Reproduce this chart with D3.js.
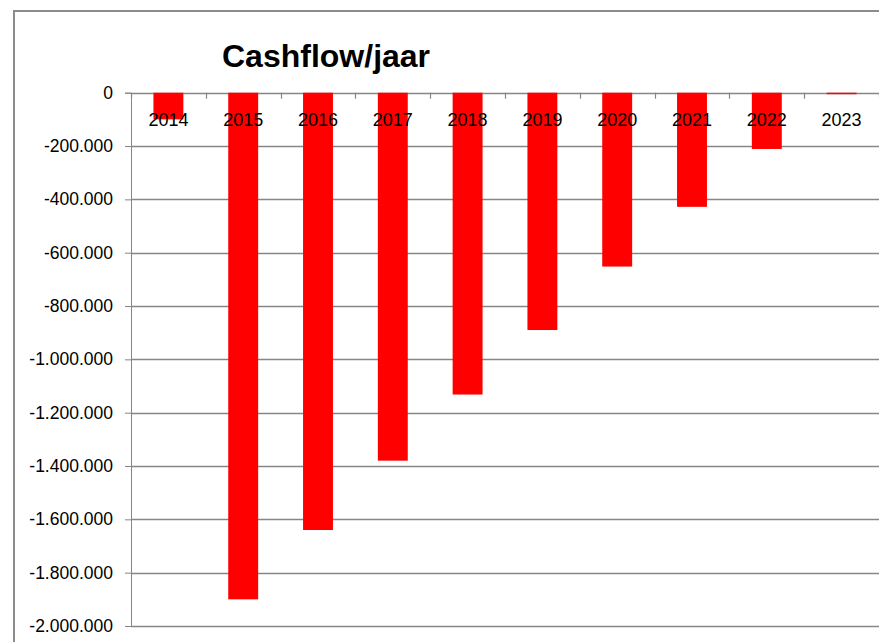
<!DOCTYPE html>
<html>
<head>
<meta charset="utf-8">
<script src="https://cdn.jsdelivr.net/npm/d3@7"></script>
<style>
  body { margin: 0; background: #fff; }
  svg { display: block; }
</style>
</head>
<body>
<svg id="chart" width="879" height="642"></svg>
<script>
// Chart data
const years = ["2014", "2015", "2016", "2017", "2018", "2019", "2020", "2021", "2022", "2023"];
const cashflow = [-100000, -1900000, -1640000, -1380000, -1132000, -890000, -652000, -428000, -211000, -4000];
const yTicks = [0, -200000, -400000, -600000, -800000, -1000000, -1200000, -1400000, -1600000, -1800000, -2000000];
const chartTitle = "Cashflow/jaar";

const width = 879;
const height = 642;
const plot = { left: 131, right: 879, top: 92.7, bottom: 626 };

const svg = d3.select("#chart");

// Dutch number format: 1.000.000
const nl = d3.formatLocale({ decimal: ",", thousands: ".", grouping: [3], currency: ["€", ""], minus: "-" });
const fmt = nl.format(",");

const x = d3.scaleBand()
  .domain(years)
  .range([plot.left, plot.right])
  .paddingInner(0.6)
  .paddingOuter(0.3);

const y = d3.scaleLinear()
  .domain([-2000000, 0])
  .range([plot.bottom, plot.top]);

// chart area border (runs off the right / bottom of the picture)
svg.append("rect")
  .attr("x", 14)
  .attr("y", 11)
  .attr("width", width + 20)
  .attr("height", height + 20)
  .attr("fill", "#fff")
  .attr("stroke", "#8c8c8c")
  .attr("stroke-width", 2);

// gridlines + y axis
const yAxis = d3.axisLeft(y)
  .tickValues(yTicks)
  .tickFormat(fmt)
  .tickSize(6)
  .tickPadding(12);

const gy = svg.append("g")
  .attr("transform", `translate(${plot.left},0)`)
  .call(yAxis);
gy.select(".domain").attr("stroke", "#868686");
gy.selectAll(".tick line").attr("stroke", "#868686");
gy.selectAll(".tick text")
  .attr("fill", "#000")
  .style("font-family", "'Liberation Sans', Arial, sans-serif")
  .style("font-size", "17.5px");

svg.append("g")
  .selectAll("line")
  .data(yTicks)
  .join("line")
  .attr("x1", plot.left)
  .attr("x2", plot.right)
  .attr("y1", (d) => Math.round(y(d)) + 0.5)
  .attr("y2", (d) => Math.round(y(d)) + 0.5)
  .attr("stroke", "#868686")
  .attr("stroke-width", 1.5);

// bars
svg.append("g")
  .selectAll("rect")
  .data(years)
  .join("rect")
  .attr("x", (d) => x(d))
  .attr("width", x.bandwidth())
  .attr("y", y(0))
  .attr("height", (d, i) => Math.max(1.5, y(cashflow[i]) - y(0)))
  .attr("fill", "#ff0000");

// category boundary ticks on the zero line
const half = (x.step() - x.bandwidth()) / 2;
const bounds = years.map((d) => x(d) - half).concat([x(years[years.length - 1]) + x.bandwidth() + half]);
svg.append("g")
  .selectAll("line")
  .data(bounds)
  .join("line")
  .attr("x1", (d) => Math.round(d) + 0.5)
  .attr("x2", (d) => Math.round(d) + 0.5)
  .attr("y1", y(0))
  .attr("y2", y(0) + 6)
  .attr("stroke", "#868686")
  .attr("stroke-width", 1.2);

// category labels (drawn over the bars, near the zero line)
svg.append("g")
  .selectAll("text")
  .data(years)
  .join("text")
  .attr("x", (d) => x(d) + x.bandwidth() / 2)
  .attr("y", 126)
  .attr("text-anchor", "middle")
  .attr("fill", "#000")
  .style("font-family", "'Liberation Sans', Arial, sans-serif")
  .style("font-size", "18px")
  .text((d) => d);

// title
svg.append("text")
  .attr("x", 222)
  .attr("y", 67)
  .attr("fill", "#000")
  .style("font-family", "'Liberation Sans', Arial, sans-serif")
  .style("font-weight", "bold")
  .style("font-size", "32px")
  .text(chartTitle);
</script>
</body>
</html>
